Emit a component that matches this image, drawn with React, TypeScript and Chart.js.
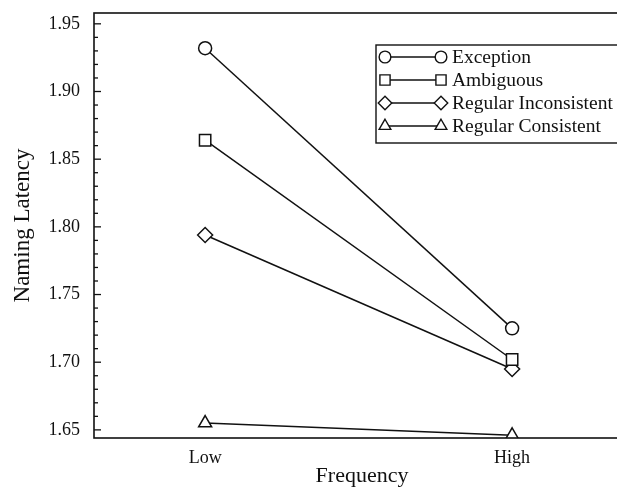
import React, { useEffect, useRef } from "react";
import { Chart, registerables } from "chart.js";
import { drawPoint } from "chart.js/helpers";

Chart.register(...registerables);

const categories = ["Low", "High"];
const seriesNames = ["Exception", "Ambiguous", "Regular Inconsistent", "Regular Consistent"];
const exception = [1.932, 1.725];
const ambiguous = [1.864, 1.702];
const regularInconsistent = [1.794, 1.695];
const regularConsistent = [1.655, 1.646];
const seriesValues = [exception, ambiguous, regularInconsistent, regularConsistent];
const pointStyles = ["circle", "rect", "rectRot", "triangle"];
const pointRadii = [6.5, 8, 7.5, 7.5];
const yTicks = [1.65, 1.7, 1.75, 1.8, 1.85, 1.9, 1.95];
const yMin = 1.644;
const yMax = 1.958;
const xMin = -0.362;
const xMax = 1.384;

const FONT = "'Liberation Serif', 'DejaVu Serif', serif";
const INK = "#111";

const framePlugin = {
  id: "frame",
  afterDraw(chart: any) {
    const { ctx, chartArea, scales } = chart;
    const { left, top, right, bottom } = chartArea;
    const y = scales.y;
    ctx.save();
    ctx.strokeStyle = INK;
    ctx.lineWidth = 1.6;
    ctx.strokeRect(left, top, right - left, bottom - top);
    ctx.lineWidth = 1.3;
    for (let i = 0; i < yTicks.length; i++) {
      const py = y.getPixelForValue(yTicks[i]);
      ctx.beginPath();
      ctx.moveTo(left, py);
      ctx.lineTo(left + 7, py);
      ctx.stroke();
      if (i < yTicks.length - 1) {
        for (let k = 1; k < 5; k++) {
          const v = yTicks[i] + ((yTicks[i + 1] - yTicks[i]) * k) / 5;
          const pm = y.getPixelForValue(v);
          ctx.beginPath();
          ctx.moveTo(left, pm);
          ctx.lineTo(left + 4, pm);
          ctx.stroke();
        }
      }
    }
    // legend
    const boxLeft = 376;
    const boxTop = 45;
    const rowH = 23;
    const n = chart.data.datasets.length;
    ctx.lineWidth = 1.4;
    ctx.strokeRect(boxLeft, boxTop, 300, rowH * n + 6);
    ctx.font = `19.5px ${FONT}`;
    ctx.textBaseline = "middle";
    ctx.textAlign = "left";
    chart.data.datasets.forEach((ds: any, i: number) => {
      const cy = boxTop + 12 + i * rowH;
      const x1 = boxLeft + 9;
      const x2 = boxLeft + 65;
      ctx.strokeStyle = INK;
      ctx.lineWidth = 1.3;
      ctx.beginPath();
      ctx.moveTo(x1, cy);
      ctx.lineTo(x2, cy);
      ctx.stroke();
      const opts = {
        pointStyle: ds.pointStyle,
        radius: ds.pointRadius * 0.9,
        rotation: 0,
        borderWidth: 1.4,
      };
      ctx.fillStyle = "#fff";
      ctx.strokeStyle = INK;
      ctx.lineWidth = 1.4;
      drawPoint(ctx, opts as any, x1, cy);
      drawPoint(ctx, opts as any, x2, cy);
      ctx.fillStyle = INK;
      ctx.fillText(ds.label, x2 + 11, cy + 1);
    });
    ctx.restore();
  },
};

export default function App() {
  const ref = useRef<HTMLCanvasElement | null>(null);
  useEffect(() => {
    if (!ref.current) return;
    const datasets = seriesNames.map((name, i) => ({
      label: name,
      data: seriesValues[i].map((v, j) => ({ x: j, y: v })),
      borderColor: INK,
      borderWidth: 1.5,
      backgroundColor: "#fff",
      pointStyle: pointStyles[i],
      pointRadius: pointRadii[i],
      pointBorderWidth: 1.5,
      pointBorderColor: INK,
      pointBackgroundColor: "#fff",
      showLine: true,
    }));
    const chart = new Chart(ref.current, {
      type: "scatter",
      data: { datasets: datasets as any },
      options: {
        responsive: false,
        animation: false,
        devicePixelRatio: 1,
        layout: { padding: { top: 13, right: 10, left: 0, bottom: 0 } },
        plugins: { legend: { display: false }, tooltip: { enabled: false } },
        scales: {
          x: {
            type: "linear",
            min: xMin,
            max: xMax,
            afterBuildTicks: (s: any) => {
              s.ticks = categories.map((_, i) => ({ value: i }));
            },
            afterFit: (s: any) => {
              s.height = 53;
              s.paddingLeft = 0;
              s.paddingRight = 0;
            },
            grid: { display: false, drawTicks: false },
            border: { display: false },
            ticks: {
              color: INK,
              font: { family: FONT, size: 18 },
              padding: 9,
              autoSkip: false,
              maxRotation: 0,
              callback: (v: any) => categories[v as number] ?? "",
            },
            title: {
              display: true,
              text: "Frequency",
              color: INK,
              font: { family: FONT, size: 22 },
              padding: { top: 0, bottom: 2 },
            },
          },
          y: {
            type: "linear",
            min: yMin,
            max: yMax,
            afterBuildTicks: (s: any) => {
              s.ticks = yTicks.map((v) => ({ value: v }));
            },
            afterFit: (s: any) => {
              s.width = 94;
              s.paddingTop = 0;
              s.paddingBottom = 0;
            },
            grid: { display: false, drawTicks: false },
            border: { display: false },
            ticks: {
              color: INK,
              font: { family: FONT, size: 18 },
              padding: 14,
              callback: (v: any) => Number(v).toFixed(2),
            },
            title: {
              display: true,
              text: "Naming Latency",
              color: INK,
              font: { family: FONT, size: 23 },
              padding: { top: 9, bottom: 0 },
            },
          },
        },
      },
      plugins: [framePlugin],
    });
    return () => chart.destroy();
  }, []);
  return (
    <div
      style={{
        position: "fixed",
        left: 0,
        top: 0,
        width: 617,
        height: 491,
        overflow: "hidden",
        background: "#fff",
      }}
    >
      <canvas ref={ref} width={640} height={491} style={{ display: "block" }} />
    </div>
  );
}
